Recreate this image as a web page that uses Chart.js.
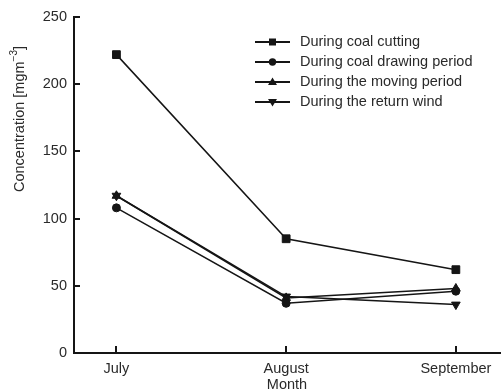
<!DOCTYPE html>
<html>
<head>
<meta charset="utf-8">
<script src="https://cdn.jsdelivr.net/npm/chart.js@4.4.0/dist/chart.umd.min.js"></script>
<style>
  html, body { margin: 0; padding: 0; background: #fff; }
</style>
</head>
<body>
<canvas id="concChart" width="501" height="392"></canvas>
<script>
// values
const months = ['July', 'August', 'September'];
const yTickValues = [0, 50, 100, 150, 200, 250];
const seriesNames = [
    'During coal cutting',
    'During coal drawing period',
    'During the moving period',
    'During the return wind'
];
const coalCutting = [222, 85, 62];
const coalDrawing = [108, 37, 46];
const movingPeriod = [117, 41, 48];
const returnWind = [117, 42, 36];

const FONT = 'Liberation Sans, Arial, Helvetica, sans-serif';
const INK = '#151515';
const TEXT = '#2a2a2a';

const toPoints = (vals) => vals.map((v, i) => ({ x: i, y: v }));

const markerStyles = [
    { pointStyle: 'rect', pointRadius: 5.5, pointRotation: 0 },
    { pointStyle: 'circle', pointRadius: 4, pointRotation: 0 },
    { pointStyle: 'triangle', pointRadius: 5, pointRotation: 0 },
    { pointStyle: 'triangle', pointRadius: 5, pointRotation: 180 }
];
const seriesValues = [coalCutting, coalDrawing, movingPeriod, returnWind];

const datasets = seriesValues.map((vals, i) => ({
    label: seriesNames[i],
    data: toPoints(vals),
    borderColor: INK,
    backgroundColor: INK,
    pointBackgroundColor: INK,
    pointBorderColor: INK,
    borderWidth: 1.5,
    pointBorderWidth: 1,
    ...markerStyles[i]
}));

// inward tick marks on both axes
const tickMarks = {
    id: 'tickMarks',
    afterDraw(chart) {
        const { ctx, chartArea, scales } = chart;
        ctx.save();
        ctx.strokeStyle = INK;
        ctx.lineWidth = 2;
        ctx.beginPath();
        yTickValues.forEach(v => {
            const y = Math.round(scales.y.getPixelForValue(v));
            ctx.moveTo(chartArea.left, y);
            ctx.lineTo(chartArea.left + 6, y);
        });
        months.forEach((m, i) => {
            const x = Math.round(scales.x.getPixelForValue(i));
            ctx.moveTo(x, chartArea.bottom);
            ctx.lineTo(x, chartArea.bottom - 7);
        });
        ctx.stroke();
        ctx.restore();
    }
};

// y title with a superscript
const yTitle = {
    id: 'yTitle',
    afterDraw(chart) {
        const ctx = chart.ctx;
        const main = 'Concentration [mgm';
        const sup = '\u22123';
        const end = ']';
        ctx.save();
        ctx.translate(20, 119);
        ctx.rotate(-Math.PI / 2);
        ctx.fillStyle = TEXT;
        ctx.textBaseline = 'middle';
        ctx.textAlign = 'left';
        ctx.font = '14.5px ' + FONT;
        const w1 = ctx.measureText(main).width;
        const w3 = ctx.measureText(end).width;
        ctx.font = '10px ' + FONT;
        const w2 = ctx.measureText(sup).width;
        let x = -(w1 + w2 + w3) / 2;
        ctx.font = '14.5px ' + FONT;
        ctx.fillText(main, x, 0);
        x += w1;
        ctx.font = '10px ' + FONT;
        ctx.fillText(sup, x, -6);
        x += w2;
        ctx.font = '14.5px ' + FONT;
        ctx.fillText(end, x, 0);
        ctx.restore();
    }
};

function drawMarker(ctx, style, x, y) {
    ctx.beginPath();
    if (style === 0) {
        ctx.rect(x - 3.5, y - 3.5, 7, 7);
    } else if (style === 1) {
        ctx.arc(x, y, 3.7, 0, Math.PI * 2);
    } else if (style === 2) {
        ctx.moveTo(x, y - 4.5);
        ctx.lineTo(x + 4.5, y + 3);
        ctx.lineTo(x - 4.5, y + 3);
        ctx.closePath();
    } else {
        ctx.moveTo(x, y + 4.5);
        ctx.lineTo(x + 4.5, y - 3);
        ctx.lineTo(x - 4.5, y - 3);
        ctx.closePath();
    }
    ctx.fill();
}

// legend drawn inside the plot, top right
const insideLegend = {
    id: 'insideLegend',
    afterDraw(chart) {
        const ctx = chart.ctx;
        ctx.save();
        ctx.font = '14.5px ' + FONT;
        ctx.textBaseline = 'middle';
        ctx.textAlign = 'left';
        seriesNames.forEach((name, i) => {
            const y = 42 + i * 20;
            ctx.strokeStyle = INK;
            ctx.fillStyle = INK;
            ctx.lineWidth = 2;
            ctx.beginPath();
            ctx.moveTo(255, y);
            ctx.lineTo(290, y);
            ctx.stroke();
            drawMarker(ctx, i, 272.5, y);
            ctx.fillStyle = TEXT;
            ctx.fillText(name, 300, y);
        });
        ctx.restore();
    }
};

const ctx = document.getElementById('concChart');
new Chart(ctx, {
    type: 'line',
    data: { datasets },
    options: {
        responsive: false,
        animation: false,
        layout: { autoPadding: false, padding: { top: 17, right: 1, left: 0, bottom: 0 } },
        elements: { line: { tension: 0 } },
        scales: {
            x: {
                type: 'linear',
                min: -0.25,
                max: 2.26,
                afterBuildTicks: (scale) => {
                    scale.ticks = months.map((m, i) => ({ value: i }));
                },
                afterFit: (scale) => {
                    scale.height = 39;
                    scale.paddingLeft = 0;
                    scale.paddingRight = 0;
                },
                grid: { display: false, drawTicks: false },
                border: { display: true, color: INK, width: 2 },
                ticks: {
                    padding: 7,
                    color: TEXT,
                    font: { family: FONT, size: 14.5 },
                    callback: (v) => months[v] ?? ''
                },
                title: {
                    display: true,
                    text: 'Month',
                    color: TEXT,
                    font: { family: FONT, size: 14.5, lineHeight: 1 },
                    padding: { top: 0, bottom: 0 }
                }
            },
            y: {
                min: 0,
                max: 250,
                afterBuildTicks: (scale) => {
                    scale.ticks = yTickValues.map(v => ({ value: v }));
                },
                afterFit: (scale) => {
                    scale.width = 74;
                    scale.paddingTop = 0;
                    scale.paddingBottom = 0;
                },
                grid: { display: false, drawTicks: false },
                border: { display: true, color: INK, width: 2 },
                ticks: {
                    padding: 7,
                    color: TEXT,
                    font: { family: FONT, size: 14.5 }
                }
            }
        },
        plugins: {
            legend: { display: false },
            tooltip: { enabled: false }
        }
    },
    plugins: [tickMarks, yTitle, insideLegend]
});
</script>
</body>
</html>
